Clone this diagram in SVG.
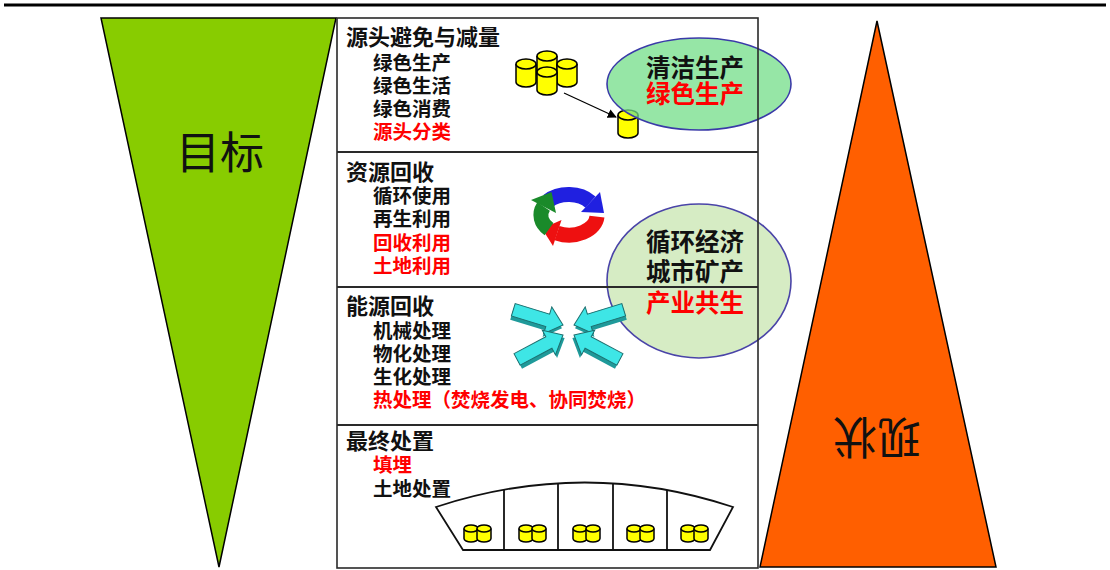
<svg xmlns="http://www.w3.org/2000/svg" xmlns:xlink="http://www.w3.org/1999/xlink" width="1110" height="570" viewBox="0 0 1110 570">
  <style>
    text { font-family: "Noto Sans CJK SC", "Noto Sans", sans-serif; font-weight: bold; fill: #111; }
    .head { font-size: 22px; }
    .item { font-size: 19.5px; }
    .red { fill: #ff0000; }
    .oval { font-size: 24.5px; text-anchor: middle; }
    .big { font-size: 44px; font-weight: normal; text-anchor: middle; }
    .frame { fill: none; stroke: #2a2a2a; stroke-width: 1.6; }
    .div { stroke: #2a2a2a; stroke-width: 2; }
    .cyl { fill: #ffff00; stroke: #000; stroke-width: 1.5; }
    .arw { fill: #3ee6e6; stroke: #1d6f6f; stroke-width: 1; }
    .arw-sh { fill: #1f9a9a; }
    .pit { fill: #fff; stroke: #111; stroke-width: 1.8; }
  </style>
  <defs>
    <g id="cyl">
      <path class="cyl" d="M0,5 L0,23 A10,5 0 0 0 20,23 L20,5"/>
      <ellipse class="cyl" cx="10" cy="5" rx="10" ry="5"/>
    </g>
    <g id="cylS">
      <path class="cyl" d="M0,3.5 L0,13.5 A7,3.5 0 0 0 14,13.5 L14,3.5"/>
      <ellipse class="cyl" cx="7" cy="3.5" rx="7" ry="3.5"/>
    </g>
    <g id="pair">
      <use xlink:href="#cylS" x="-13" y="0"/>
      <use xlink:href="#cylS" x="0" y="0"/>
    </g>
    <g id="inArrow">
      <polygon class="arw-sh" points="0,3.5 -16,-10.5 -16,-3 -52,-3 -52,10.5 -16,10.5 -16,17.5"/>
      <polygon class="arw" points="0,0 -16,-14 -16,-6.5 -52,-6.5 -52,6.5 -16,6.5 -16,14"/>
    </g>
    <marker id="tip" viewBox="0 0 10 10" refX="9" refY="5" markerWidth="7" markerHeight="7" orient="auto">
      <path d="M0,0 L10,5 L0,10 z" fill="#000"/>
    </marker>
  </defs>

  <!-- header rule -->
  <line x1="4" y1="5" x2="1106" y2="5" stroke="#000" stroke-width="3"/>

  <!-- goal wedge -->
  <g id="goal">
    <polygon points="101,18 336,18 219,567" fill="#88cc00" stroke="#000" stroke-width="1.5"/>
    <text class="big" x="220" y="169">目标</text>
  </g>

  <!-- status wedge -->
  <g id="status">
    <polygon points="877,21 760,567 996,567" fill="#ff5f00" stroke="#000" stroke-width="1.5"/>
    <text class="big" transform="translate(877,437) rotate(180)" x="0" y="16">现状</text>
  </g>

  <!-- central table background -->
  <rect x="337" y="18" width="421" height="550" fill="#fff"/>

  <!-- stage 1: source reduction -->
  <g id="source">
    <use xlink:href="#cyl" x="537" y="51"/>
    <use xlink:href="#cyl" x="516" y="59"/>
    <use xlink:href="#cyl" x="557" y="59"/>
    <use xlink:href="#cyl" x="537" y="67"/>
    <use xlink:href="#cyl" x="618" y="110"/>
    <text class="head" x="346" y="45">源头避免与减量</text>
    <text class="item" x="373" y="70">绿色生产</text>
    <text class="item" x="373" y="93">绿色生活</text>
    <text class="item" x="373" y="116">绿色消费</text>
    <text class="item red" x="373" y="139">源头分类</text>
  </g>

  <!-- outcome ovals -->
  <g id="clean">
    <ellipse cx="699" cy="84" rx="92" ry="46" fill="#73dd88" fill-opacity="0.75" stroke="#3a3aa8" stroke-width="1.6"/>
  </g>
  <g id="circular">
    <ellipse cx="699" cy="281" rx="92" ry="77" fill="#d6ecc4" stroke="#4a44a8" stroke-width="1.6"/>
  </g>

  <!-- table frame and stage dividers -->
  <g id="frame">
    <rect class="frame" x="337" y="18" width="421" height="550"/>
    <line class="div" x1="337" y1="152" x2="758" y2="152"/>
    <line class="div" x1="337" y1="287" x2="758" y2="287"/>
    <line class="div" x1="337" y1="425" x2="758" y2="425"/>
  </g>

  <!-- oval labels -->
  <g id="clean-text">
    <text class="oval" x="695" y="77">清洁生产</text>
    <text class="oval red" x="695" y="103">绿色生产</text>
  </g>
  <g id="circular-text">
    <text class="oval" x="695" y="251">循环经济</text>
    <text class="oval" x="695" y="281">城市矿产</text>
    <text class="oval red" x="695" y="312">产业共生</text>
  </g>

  <!-- stage 2: recycling -->
  <g id="recycle">
    <text class="head" x="346" y="180">资源回收</text>
    <text class="item" x="373" y="203">循环使用</text>
    <text class="item" x="373" y="226">再生利用</text>
    <text class="item red" x="373" y="250">回收利用</text>
    <text class="item red" x="373" y="273">土地利用</text>
    <!-- loop of three arrows -->
    <path d="M548,201 A28,20 0 0 1 590.5,202.1" fill="none" stroke="#2020e0" stroke-width="15"/>
    <polygon points="600,192 581,212 604,213" fill="#2020e0"/>
    <path d="M597,216.7 A28,20 0 0 1 557,233.1" fill="none" stroke="#ee1010" stroke-width="15"/>
    <polygon points="553,246 561.5,220 542,228.4" fill="#ee1010"/>
    <path d="M549,229.1 A28,20 0 0 1 543.6,206.5" fill="none" stroke="#1a8a2a" stroke-width="15"/>
    <polygon points="531,200 556,213 551.5,192" fill="#1a8a2a"/>
  </g>

  <!-- stage 3: energy recovery -->
  <g id="energy">
    <text class="head" x="346" y="314">能源回收</text>
    <text class="item" x="373" y="338">机械处理</text>
    <text class="item" x="373" y="361">物化处理</text>
    <text class="item" x="373" y="384">生化处理</text>
    <text class="item red" x="373" y="407">热处理（焚烧发电、协同焚烧）</text>
    <use xlink:href="#inArrow" transform="translate(563,325) rotate(17)"/>
    <use xlink:href="#inArrow" transform="translate(563,335) rotate(-28)"/>
    <use xlink:href="#inArrow" transform="translate(574,325) rotate(163) scale(1,-1)"/>
    <use xlink:href="#inArrow" transform="translate(574,335) rotate(208) scale(1,-1)"/>
  </g>

  <!-- stage 4: final disposal -->
  <g id="disposal">
    <text class="head" x="346" y="449">最终处置</text>
    <text class="item red" x="373" y="472">填埋</text>
    <text class="item" x="373" y="496">土地处置</text>
    <path class="pit" d="M463,550 L436,507 Q585,458 733,507 L710,550 Z"/>
    <line class="pit" x1="504" y1="490" x2="504" y2="550"/>
    <line class="pit" x1="558" y1="483" x2="558" y2="550"/>
    <line class="pit" x1="613" y1="483" x2="613" y2="550"/>
    <line class="pit" x1="667" y1="490" x2="667" y2="550"/>
    <use xlink:href="#pair" x="477" y="525"/>
    <use xlink:href="#pair" x="532" y="525"/>
    <use xlink:href="#pair" x="586" y="525"/>
    <use xlink:href="#pair" x="640" y="525"/>
    <use xlink:href="#pair" x="694" y="525"/>
  </g>

  <!-- connector: sorted waste to single bin -->
  <g id="connectors">
    <line x1="564" y1="93" x2="616" y2="117" stroke="#000" stroke-width="1.3" marker-end="url(#tip)"/>
  </g>
</svg>
